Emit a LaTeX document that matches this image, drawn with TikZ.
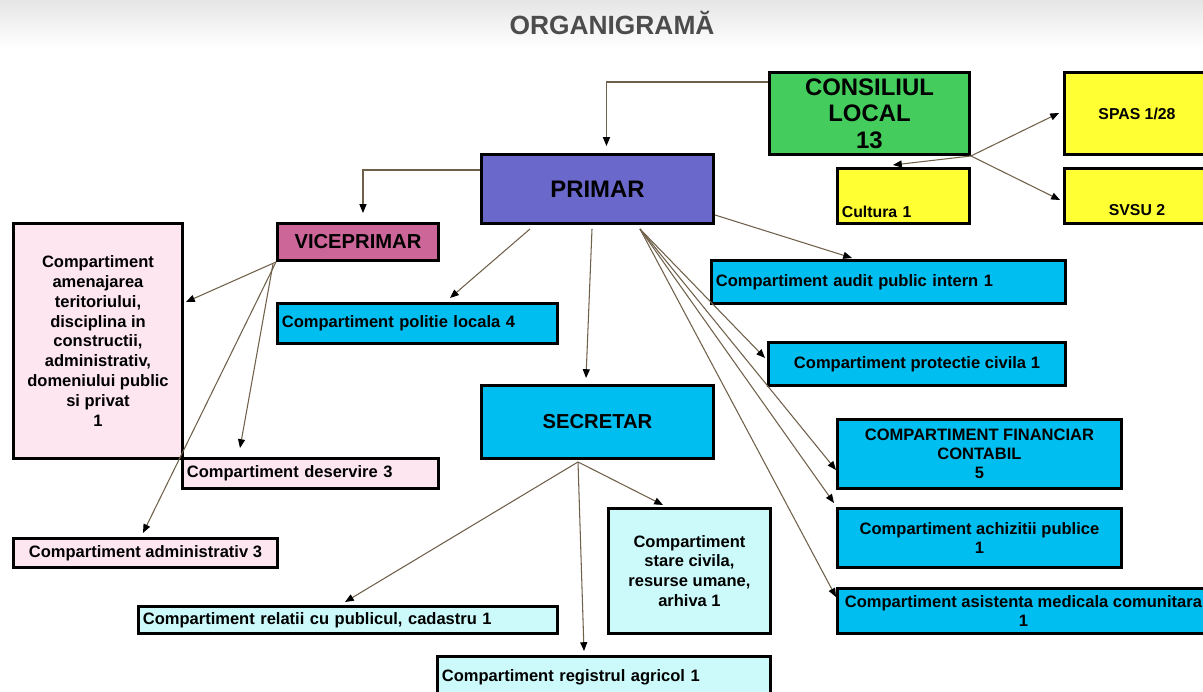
\documentclass[tikz,border=0pt]{standalone}
\usepackage{fontspec}
\setmainfont{Liberation Sans}
\usetikzlibrary{arrows.meta,calc}

\definecolor{verde}{HTML}{44CC5C}
\definecolor{galben}{HTML}{FFFF33}
\definecolor{mov}{HTML}{6B68CC}
\definecolor{roz}{HTML}{CC6699}
\definecolor{rozdes}{HTML}{FDE6F0}
\definecolor{albastru}{HTML}{00BEF0}
\definecolor{bleu}{HTML}{CCFAFA}
\definecolor{linie}{HTML}{6F604A}

\begin{document}
\begin{tikzpicture}[x=0.02cm, y=-0.02cm,
		box/.style={draw, line width=1.7pt, anchor=north west, inner sep=0pt, align=center,
			font=\fontsize{9.4}{11.3}\selectfont\bfseries},
		lbox/.style={box, align=left, inner xsep=2.5pt},
		big/.style={font=\fontsize{13.6}{15}\selectfont\bfseries},
		arr/.style={draw=linie, line width=0.6pt, -{Triangle[length=5pt,width=4pt,black]}}
		]
	\useasboundingbox (0,0) rectangle (1203,692);
	\clip (0,0) rectangle (1203,692);
	\fill[white] (0,0) rectangle (1203,692);
	\fill[top color=gray!20, bottom color=white] (0,0) rectangle (1203,48);

	\node[font=\fontsize{15}{17}\selectfont\bfseries, text=gray!60!black] (titlu) at (612,23) {ORGANIGRAMĂ};

	% consiliul local
	\node[box, big, fill=verde, minimum width=4cm, minimum height=1.64cm] (cl) at (768,71) {CONSILIUL\\LOCAL\\13};
	\node[box, fill=galben, font=\fontsize{9}{11}\selectfont\bfseries, minimum width=2.9cm, minimum height=1.64cm] (spas) at (1063,71) {SPAS 1/28};
	\node[lbox, fill=galben, font=\fontsize{9}{11}\selectfont\bfseries, text width=2.46cm, text height=0.98cm, text depth=0.12cm] (cult) at (836,167) {Cultura 1};
	\node[box, fill=galben, font=\fontsize{9}{11}\selectfont\bfseries, minimum width=2.9cm, text height=0.94cm, text depth=0.16cm] (svsu) at (1063,167) {SVSU 2};

	% primar
	\node[box, big, fill=mov, minimum width=4.64cm, minimum height=1.38cm] (primar) at (480,153) {PRIMAR};
	\node[box, font=\fontsize{11.5}{14}\selectfont\bfseries, fill=roz, minimum width=3.22cm, minimum height=0.74cm] (vice) at (276,222) {VICEPRIMAR};
	\node[box, fill=rozdes, minimum width=3.38cm, minimum height=4.7cm] (amen) at (12,222) {Compartiment\\amenajarea\\teritoriului,\\disciplina in\\constructii,\\administrativ,\\domeniului public\\si privat\\1};
	\node[lbox, fill=rozdes, text width=4.94cm, minimum height=0.6cm] (deserv) at (181,457) {Compartiment deservire 3};
	\node[box, fill=rozdes, minimum width=5.28cm, minimum height=0.58cm] (admin) at (12,537) {Compartiment administrativ 3};
	\node[lbox, fill=albastru, text width=5.42cm, minimum height=0.8cm] (politie) at (276,302) {Compartiment politie locala 4};

	% secretar
	\node[box, font=\fontsize{11.5}{14}\selectfont\bfseries, fill=albastru, minimum width=4.64cm, minimum height=1.46cm] (secr) at (480,384) {SECRETAR};
	\node[box, fill=bleu, minimum width=3.24cm, minimum height=2.5cm] (stare) at (607,507) {Compartiment\\stare civila,\\resurse umane,\\arhiva 1};
	\node[lbox, fill=bleu, text width=8.2cm, minimum height=0.54cm] (relatii) at (137,605) {Compartiment relatii cu publicul, cadastru 1};
	\node[lbox, fill=bleu, text width=6.48cm, minimum height=0.84cm] (registrul) at (436,655) {Compartiment registrul agricol 1};

	% compartimente dreapta
	\node[lbox, fill=albastru, text width=6.9cm, minimum height=0.86cm] (audit) at (710,259) {Compartiment audit public intern 1};
	\node[box, fill=albastru, minimum width=5.94cm, minimum height=0.86cm] (prot) at (767,341) {Compartiment protectie civila 1};
	\node[box, fill=albastru, minimum width=5.68cm, minimum height=1.38cm, font=\fontsize{9.4}{10.8}\selectfont\bfseries] (fin) at (836,418) {COMPARTIMENT FINANCIAR\\CONTABIL\\5};
	\node[box, fill=albastru, minimum width=5.68cm, minimum height=1.18cm] (achiz) at (836,507) {Compartiment achizitii publice\\1};
	\node[box, fill=albastru, minimum width=7.44cm, minimum height=0.9cm] (asist) at (836,587) {Compartiment asistenta medicala comunitara\\1};

	% legaturi
	\coordinate (pf) at ($(primar.south west)+(160,4)$);
	\coordinate (sf) at ($(secr.south west)+(98,2)$);
	\draw[arr] ($(cl.north west)+(0,11)$) -| ($(primar.north)+(9,-7)$);
	\draw[arr] ($(primar.north west)+(0,17)$) -| ($(vice.north)+(5,-9)$);
	\draw[arr] (cl.south east) -- ($(cult.north west)+(57,-2)$);
	\draw[arr] (cl.south east) -- ($(spas.north west)+(-4,42)$);
	\draw[arr] (cl.south east) -- ($(svsu.north west)+(-3,33)$);
	\draw[arr] (vice.south west) -- ($(amen.north east)+(2,80)$);
	\draw[arr] ($(vice.south west)+(-3,2)$) -- ($(deserv.north west)+(59,-9)$);
	\draw[arr] (vice.south west) -- ($(admin.north west)+(131,-4)$);
	\draw[arr] ($(primar.south west)+(50,4)$) -- ($(politie.north west)+(174,-4)$);
	\draw[arr] ($(primar.south west)+(112,4)$) -- ($(secr.north west)+(106,-6)$);
	\draw[arr] ($(primar.south east)+(0,-10)$) -- ($(audit.north west)+(142,-1)$);
	\draw[arr] (pf) -- ($(prot.north west)+(-2,17)$);
	\draw[arr] (pf) -- ($(fin.north west)+(0,52)$);
	\draw[arr] (pf) -- ($(achiz.north west)+(-2,-4)$);
	\draw[arr] (pf) -- ($(asist.north west)+(0,10)$);
	\draw[arr] (sf) -- ($(relatii.north west)+(208,-3)$);
	\draw[arr] (sf) -- ($(registrul.north west)+(148,-4)$);
	\draw[arr] (sf) -- ($(stare.north west)+(56,-2)$);
\end{tikzpicture}
\end{document}
